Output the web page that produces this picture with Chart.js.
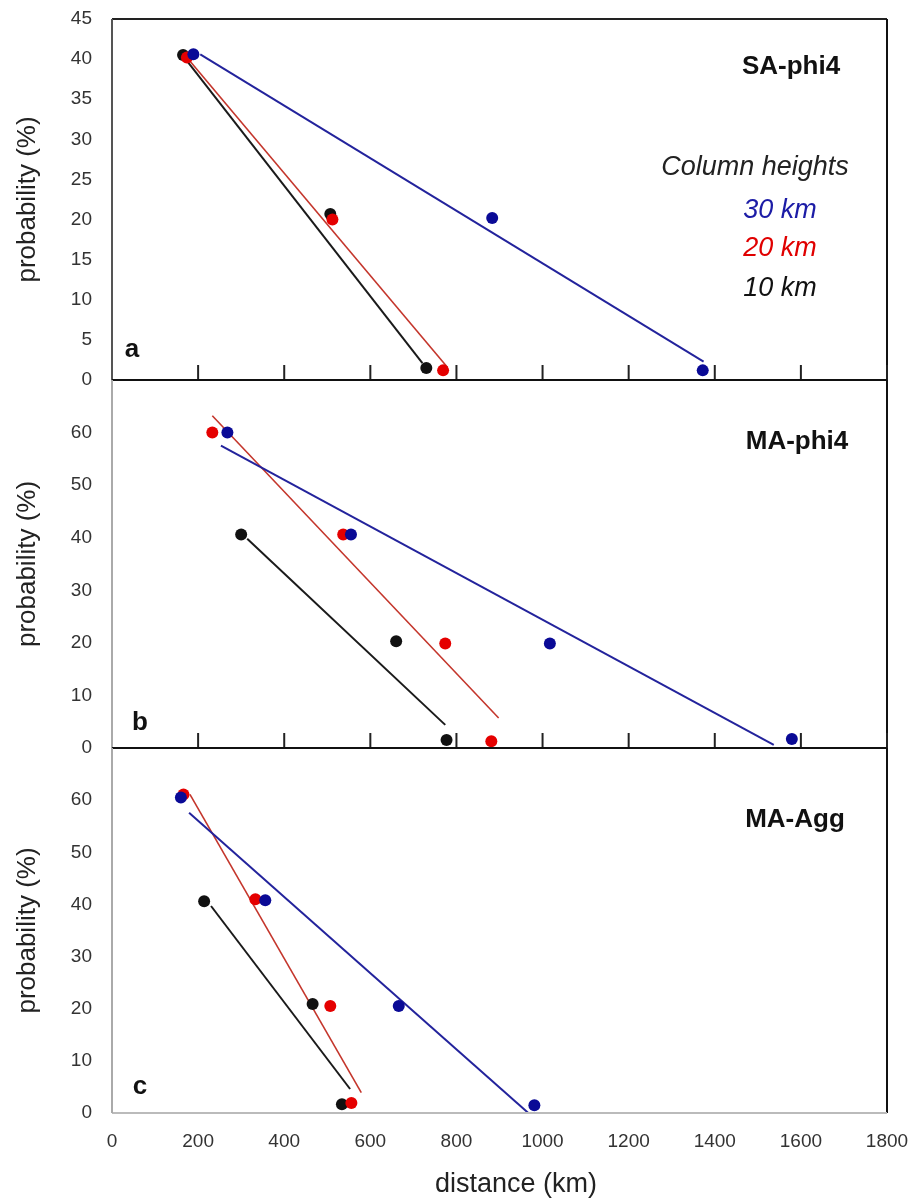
<!DOCTYPE html>
<html>
<head>
<meta charset="utf-8">
<script src="https://cdn.jsdelivr.net/npm/chart.js@4.4.0/dist/chart.umd.min.js"></script>
<style>
  html, body { margin: 0; padding: 0; background: #fff; }
  body { width: 914px; height: 1204px; position: relative; overflow: hidden; }
  canvas { position: absolute; left: 0; display: block; }
</style>
</head>
<body>
<canvas id="ca" width="914" height="400" style="top:0px"></canvas>
<canvas id="cb" width="914" height="408" style="top:360px"></canvas>
<canvas id="cc" width="914" height="476" style="top:728px"></canvas>
<script>
// Panel a: SA-phi4 (distance km / probability %)
const saBlueX = [189, 883, 1372];
const saBlueY = [40.6, 20.2, 1.2];
const saRedX = [174, 512, 769];
const saRedY = [40.2, 20.0, 1.2];
const saBlackX = [165, 507, 730];
const saBlackY = [40.5, 20.7, 1.5];
// trendline end points
const saBlueFitX = [205, 1374];
const saBlueFitY = [40.6, 2.3];
const saRedFitX = [174, 779];
const saRedFitY = [40.2, 1.6];
const saBlackFitX = [165, 721];
const saBlackFitY = [40.4, 2.1];

// Panel b: MA-phi4
const maBlueX = [268, 555, 1017, 1579];
const maBlueY = [60, 40.6, 19.9, 1.7];
const maRedX = [233, 537, 774, 881];
const maRedY = [60, 40.6, 19.9, 1.3];
const maBlackX = [300, 660, 777];
const maBlackY = [40.6, 20.3, 1.5];
const maBlueFitX = [253, 1537];
const maBlueFitY = [57.5, 0.6];
const maRedFitX = [233, 898];
const maRedFitY = [63.2, 5.7];
const maBlackFitX = [314, 774];
const maBlackFitY = [39.8, 4.4];

// Panel c: MA-Agg
const agBlueX = [160, 356, 666, 981];
const agBlueY = [60.5, 40.8, 20.5, 1.5];
const agRedX = [166, 333, 507, 556];
const agRedY = [61.1, 41, 20.5, 1.9];
const agBlackX = [214, 466, 534];
const agBlackY = [40.6, 20.9, 1.7];
const agBlueFitX = [179, 967];
const agBlueFitY = [57.6, 0];
const agRedFitX = [181, 579];
const agRedFitY = [61.1, 3.9];
const agBlackFitX = [230, 553];
const agBlackFitY = [39.7, 4.6];

// Axis ranges / tick steps
const xMin = 0, xMax = 1800, xStep = 200;
const saYMax = 45, saYStep = 5;
const maYMax = 70, maYStep = 10;

const FONT = '"Liberation Sans", Arial, sans-serif';
const BLUE_PT = '#0a0a96';
const BLUE_LN = '#23239c';
const RED_PT = '#e50000';
const RED_LN = '#c4362c';
const BLACK = '#111111';

const pts = (xs, ys) => xs.map((x, i) => ({ x: x, y: ys[i] }));

// Points are listed first so they sit on top of the trendlines
const makeDatasets = (s) => [
  { data: pts(s.bx, s.by), backgroundColor: BLUE_PT, pointRadius: 6, pointBorderWidth: 0, showLine: false },
  { data: pts(s.rx, s.ry), backgroundColor: RED_PT, pointRadius: 6, pointBorderWidth: 0, showLine: false },
  { data: pts(s.kx, s.ky), backgroundColor: BLACK, pointRadius: 6, pointBorderWidth: 0, showLine: false },
  { data: pts(s.bfx, s.bfy), borderColor: BLUE_LN, borderWidth: 2, pointRadius: 0, showLine: true },
  { data: pts(s.rfx, s.rfy), borderColor: RED_LN, borderWidth: 1.6, pointRadius: 0, showLine: true },
  { data: pts(s.kfx, s.kfy), borderColor: '#1a1a1a', borderWidth: 2, pointRadius: 0, showLine: true },
];

// Frame, inward tick marks and overlaid labels
const framePlugin = {
  id: 'frame',
  afterDraw(chart, args, o) {
    const { ctx, chartArea: a } = chart;
    ctx.save();
    ctx.lineWidth = 2;
    const seg = (x1, y1, x2, y2, c) => {
      ctx.strokeStyle = c;
      ctx.beginPath();
      ctx.moveTo(x1, y1);
      ctx.lineTo(x2, y2);
      ctx.stroke();
    };
    seg(a.left, a.top, a.right, a.top, o.top);
    seg(a.right, a.top, a.right, a.bottom, '#111');
    seg(a.left, a.bottom, a.right, a.bottom, o.bottom);
    seg(a.left, a.top, a.left, a.bottom, o.left);
    if (o.ticks) {
      const xs = chart.scales.x;
      xs.ticks.forEach(t => {
        if (t.value === xMin) return;
        const px = xs.getPixelForValue(t.value);
        seg(px, a.bottom, px, a.bottom - 15, '#222');
      });
    }
    ctx.textAlign = 'center';
    ctx.textBaseline = 'middle';
    o.texts.forEach(t => {
      ctx.font = t.font;
      ctx.fillStyle = t.color;
      ctx.fillText(t.text, t.x, t.y - o.offset);
    });
    ctx.restore();
  }
};

// drop the label overflow padding so the plot areas line up exactly
const noPad = (scale) => {
  scale.paddingTop = 0;
  scale.paddingBottom = 0;
  scale.paddingLeft = 0;
  scale.paddingRight = 0;
};

const makeChart = (id, s, p) => {
  const last = p.last;
  return new Chart(document.getElementById(id), {
    type: 'scatter',
    data: { datasets: makeDatasets(s) },
    plugins: [framePlugin],
    options: {
      responsive: false,
      animation: false,
      layout: { autoPadding: false, padding: { top: p.padTop, right: 27, bottom: p.padBottom, left: 0 } },
      plugins: {
        legend: { display: false },
        tooltip: { enabled: false },
        frame: p.frame,
      },
      scales: {
        x: {
          type: 'linear',
          min: xMin,
          max: xMax,
          grid: { display: false, drawTicks: false },
          border: { display: false },
          ticks: {
            display: last,
            stepSize: xStep,
            padding: 17,
            color: '#333',
            font: { family: FONT, size: 19 },
            callback: (v) => String(v),
          },
          afterFit: (scale) => { scale.height = last ? 91 : 0; noPad(scale); },
        },
        y: {
          type: 'linear',
          min: 0,
          max: p.yMax,
          grid: { display: false, drawTicks: false },
          border: { display: false },
          ticks: {
            stepSize: p.yStep,
            padding: 20,
            color: '#333',
            font: { family: FONT, size: 19 },
            callback: (v) => (p.hideTop && v === p.yMax ? '' : String(v)),
          },
          title: {
            display: true,
            text: 'probability (%)',
            color: '#222',
            font: { family: FONT, size: 26 },
            padding: { top: 12, bottom: 0 },
          },
          afterFit: (scale) => { scale.width = 112; noPad(scale); },
        },
      },
    },
  });
};

const boldTitle = 'bold 26px ' + FONT;
const italic = 'italic 27px ' + FONT;

makeChart('ca', {
  bx: saBlueX, by: saBlueY, rx: saRedX, ry: saRedY, kx: saBlackX, ky: saBlackY,
  bfx: saBlueFitX, bfy: saBlueFitY, rfx: saRedFitX, rfy: saRedFitY, kfx: saBlackFitX, kfy: saBlackFitY,
}, {
  last: false, padTop: 19, padBottom: 20, yMax: saYMax, yStep: saYStep, hideTop: false,
  frame: {
    offset: 0, top: '#222', bottom: '#111', left: '#555', ticks: true,
    texts: [
      { text: 'SA-phi4', x: 791, y: 67, font: boldTitle, color: '#111' },
      { text: 'Column heights', x: 755, y: 167, font: italic, color: '#222' },
      { text: '30 km', x: 780, y: 210, font: italic, color: '#1c1ca6' },
      { text: '20 km', x: 780, y: 248, font: italic, color: '#e00000' },
      { text: '10 km', x: 780, y: 288, font: italic, color: '#111' },
      { text: 'a', x: 132, y: 350, font: boldTitle, color: '#111' },
    ],
  },
});

makeChart('cb', {
  bx: maBlueX, by: maBlueY, rx: maRedX, ry: maRedY, kx: maBlackX, ky: maBlackY,
  bfx: maBlueFitX, bfy: maBlueFitY, rfx: maRedFitX, rfy: maRedFitY, kfx: maBlackFitX, kfy: maBlackFitY,
}, {
  last: false, padTop: 20, padBottom: 20, yMax: maYMax, yStep: maYStep, hideTop: true,
  frame: {
    offset: 360, top: '#111', bottom: '#111', left: '#aaa', ticks: true,
    texts: [
      { text: 'MA-phi4', x: 797, y: 442, font: boldTitle, color: '#111' },
      { text: 'b', x: 140, y: 723, font: boldTitle, color: '#111' },
    ],
  },
});

makeChart('cc', {
  bx: agBlueX, by: agBlueY, rx: agRedX, ry: agRedY, kx: agBlackX, ky: agBlackY,
  bfx: agBlueFitX, bfy: agBlueFitY, rfx: agRedFitX, rfy: agRedFitY, kfx: agBlackFitX, kfy: agBlackFitY,
}, {
  last: true, padTop: 20, padBottom: 0, yMax: maYMax, yStep: maYStep, hideTop: true,
  frame: {
    offset: 728, top: '#111', bottom: '#bbb', left: '#aaa', ticks: false,
    texts: [
      { text: 'MA-Agg', x: 795, y: 820, font: boldTitle, color: '#111' },
      { text: 'c', x: 140, y: 1087, font: boldTitle, color: '#111' },
      { text: 'distance (km)', x: 516, y: 1185, font: '27px ' + FONT, color: '#222' },
    ],
  },
});
</script>
</body>
</html>
